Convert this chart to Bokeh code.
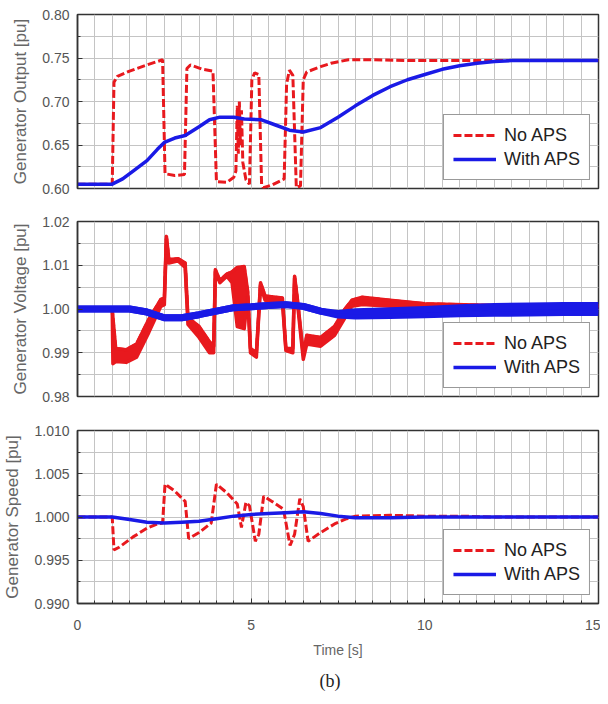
from bokeh.plotting import figure
from bokeh.models import (Range1d, FixedTicker, PrintfTickFormatter, Legend,
                          LegendItem, Title)
from bokeh.layouts import column
from bokeh.embed import file_html
from bokeh.resources import INLINE

# ---------------- data ----------------
x_ticks = [0, 5, 10, 15]
x_minor = [i * 0.5 for i in range(31)]

# Panel 1: generator output [pu]
p1_ticks = [0.60, 0.65, 0.70, 0.75, 0.80]
p1_minor = [0.60, 0.625, 0.65, 0.675, 0.70, 0.725, 0.75, 0.775, 0.80]
out_no_t = [0.0, 1.0, 1.05, 1.15, 1.5, 2.0, 2.45, 2.52, 2.8, 3.08, 3.15, 3.25, 3.6, 3.9,
            4.0, 4.3, 4.5, 4.56, 4.6, 4.63, 4.66, 4.69, 4.72, 4.76, 4.85, 4.95, 5.02,
            5.1, 5.22, 5.3, 5.35, 5.6, 5.95, 6.02, 6.1, 6.2, 6.3, 6.42, 6.5, 6.6, 7.0,
            7.3, 7.8, 8.5, 9.5, 10.5, 11.5, 12.5, 15.0]
out_no_v = [0.605, 0.605, 0.722, 0.729, 0.735, 0.742, 0.748, 0.617, 0.615, 0.616, 0.738,
            0.742, 0.737, 0.735, 0.608, 0.607, 0.613, 0.620, 0.695, 0.640, 0.700, 0.650,
            0.690, 0.630, 0.610, 0.605, 0.725, 0.733, 0.731, 0.605, 0.601, 0.604, 0.611,
            0.720, 0.736, 0.730, 0.601, 0.603, 0.725, 0.734, 0.740, 0.744, 0.748, 0.748,
            0.747, 0.747, 0.747, 0.747, 0.747]
out_aps_t = [0.0, 1.0, 1.3, 1.6, 2.0, 2.3, 2.5, 2.8, 3.1, 3.5, 3.8, 4.1, 4.5, 4.8, 5.3,
             5.7, 6.1, 6.5, 7.0, 7.5, 8.0, 8.5, 9.0, 9.5, 10.0, 10.5, 11.0, 11.5, 12.0,
             12.5, 13.0, 15.0]
out_aps_v = [0.605, 0.605, 0.611, 0.620, 0.632, 0.645, 0.653, 0.658, 0.661, 0.671, 0.679,
             0.682, 0.682, 0.680, 0.679, 0.673, 0.667, 0.665, 0.670, 0.682, 0.695, 0.707,
             0.717, 0.725, 0.731, 0.737, 0.741, 0.744, 0.746, 0.747, 0.747, 0.747]

# Panel 2: generator voltage [pu] (lower / upper envelope of the traces)
p2_ticks = [0.98, 0.99, 1.00, 1.01, 1.02]
p2_minor = [0.98, 0.985, 0.99, 0.995, 1.00, 1.005, 1.01, 1.015, 1.02]
volt_no_t = [0.0, 1.0, 1.02, 1.1, 1.4, 1.7, 2.05, 2.4, 2.5, 2.56, 2.63, 2.9, 3.1, 3.18,
             3.5, 3.8, 3.92, 3.97, 4.1, 4.3, 4.45, 4.6, 4.8, 4.9, 4.98, 5.15, 5.27, 5.4,
             5.9, 6.0, 6.2, 6.25, 6.35, 6.5, 6.6, 7.0, 7.4, 7.7, 7.9, 8.2, 9.0, 10.0,
             12.0, 15.0]
volt_no_lo = [1.000, 1.000, 0.9875, 0.988, 0.9878, 0.989, 0.9946, 1.0006, 1.001, 1.016,
              1.0105, 1.011, 1.0095, 0.9965, 0.9935, 0.990, 0.990, 1.0085, 1.006, 1.0075,
              1.006, 0.996, 0.9955, 1.003, 0.990, 0.989, 1.0055, 1.002, 1.0015, 0.9905,
              0.990, 1.007, 1.000, 0.9885, 0.992, 0.9915, 0.994, 0.998, 1.0006, 1.001,
              1.0006, 1.0004, 1.0003, 1.0003]
volt_no_hi = [1.000, 1.000, 0.998, 0.991, 0.9907, 0.992, 0.9976, 1.0022, 1.0025, 1.0166,
              1.0113, 1.0115, 1.0105, 0.998, 0.996, 0.9925, 0.9915, 1.009, 1.0065, 1.008,
              1.0085, 1.0095, 1.0097, 1.004, 0.991, 0.990, 1.006, 1.003, 1.0025, 0.991,
              0.991, 1.0075, 1.001, 0.9895, 0.994, 0.9935, 0.996, 1.000, 1.002, 1.0027,
              1.002, 1.0012, 1.0008, 1.0008]
volt_aps_t = [0.0, 1.5, 2.0, 2.5, 3.0, 3.5, 4.0, 4.5, 5.0, 5.5, 6.0, 6.5, 7.0, 7.5, 8.0,
              9.0, 10.0, 11.0, 12.0, 13.0, 14.0, 15.0]
volt_aps_lo = [1.000, 1.000, 0.9993, 0.998, 0.998, 0.9987, 0.9995, 1.0003, 1.0005, 1.0008,
               1.001, 1.0006, 0.9995, 0.9986, 0.9984, 0.9985, 0.9987, 0.9989, 0.999,
               0.9991, 0.9992, 0.9992]
volt_aps_hi = [1.000, 1.000, 0.9993, 0.998, 0.998, 0.9987, 0.9995, 1.0003, 1.0005, 1.0008,
               1.001, 1.0006, 0.9995, 0.999, 0.9994, 0.9996, 0.9999, 1.0003, 1.0006,
               1.0007, 1.0008, 1.0008]

# Panel 3: generator speed [pu]
p3_ticks = [0.990, 0.995, 1.000, 1.005, 1.010]
p3_minor = [0.990, 0.9925, 0.995, 0.9975, 1.000, 1.0025, 1.005, 1.0075, 1.010]
spd_no_t = [0.0, 1.0, 1.05, 1.2, 1.6, 2.0, 2.3, 2.45, 2.52, 2.8, 3.1, 3.2, 3.5, 3.85,
            4.0, 4.3, 4.6, 4.72, 4.85, 4.95, 5.12, 5.22, 5.36, 5.6, 5.93, 6.12, 6.25,
            6.4, 6.5, 6.64, 7.0, 7.4, 7.75, 8.0, 9.0, 10.0, 11.0, 12.0, 15.0]
spd_no_v = [1.000, 1.000, 0.9962, 0.9965, 0.9977, 0.9987, 0.9992, 0.9993, 1.0038, 1.003,
            1.0018, 0.9975, 0.9982, 0.9993, 1.0038, 1.0028, 1.0015, 0.9988, 1.0017,
            1.0013, 0.9972, 0.998, 1.0024, 1.0018, 1.0009, 0.9967, 0.998, 1.0021, 1.0012,
            0.9972, 0.9982, 0.9992, 0.9998, 1.0001, 1.0002, 1.0001, 1.0001, 1.000, 1.000]
spd_aps_t = [0.0, 1.0, 1.5, 2.0, 2.5, 3.0, 3.5, 4.0, 4.5, 5.0, 5.5, 6.0, 6.5, 7.0, 7.5,
             8.0, 9.0, 10.0, 15.0]
spd_aps_v = [1.000, 1.000, 0.9997, 0.9994, 0.9993, 0.9994, 0.9995, 0.9998, 1.0001, 1.0003,
             1.0004, 1.0005, 1.0006, 1.0004, 1.0001, 0.9999, 0.9999, 1.000, 1.000]

labels = ["No APS", "With APS"]

# ---------------- style ----------------
RED = "#e8191e"
BLUE = "#1a1ae6"
GRID = "#c4c4c4"
FONT = "Liberation Sans"
DASH = "8 3"
W = 600

x_range = Range1d(0, 15)


def make_panel(yr, yticks, yminor, fmt, ylabel, height, top, bottom, show_x):
    p = figure(width=W, height=height, x_range=x_range, y_range=Range1d(*yr),
               output_backend="svg", toolbar_location=None,
               min_border_left=70, min_border_right=2,
               min_border_top=top, min_border_bottom=bottom)
    xt = FixedTicker(ticks=x_ticks, minor_ticks=x_minor)
    yt = FixedTicker(ticks=yticks, minor_ticks=yminor)
    p.xaxis.ticker = xt
    p.yaxis.ticker = yt
    p.xgrid.ticker = xt
    p.ygrid.ticker = yt
    for g in (p.xgrid, p.ygrid):
        g.grid_line_color = GRID
        g.grid_line_width = 1
        g.minor_grid_line_color = GRID
        g.minor_grid_line_width = 1
    p.yaxis.formatter = PrintfTickFormatter(format=fmt)
    for ax in (p.xaxis, p.yaxis):
        ax.axis_line_color = "#333333"
        ax.axis_line_width = 1.5
        ax.major_tick_in = 5
        ax.major_tick_out = 0
        ax.minor_tick_in = 3
        ax.minor_tick_out = 0
        ax.major_tick_line_color = "#333333"
        ax.minor_tick_line_color = "#333333"
        ax.major_label_text_font = FONT
        ax.major_label_text_font_size = "14px"
        ax.major_label_text_color = "#555555"
        ax.axis_label_text_font = FONT
        ax.axis_label_text_font_style = "normal"
        ax.axis_label_text_color = "#666666"
    p.yaxis.axis_label = ylabel
    p.yaxis.axis_label_text_font_size = "17px"
    p.yaxis.major_label_standoff = 8
    p.yaxis.axis_label_standoff = 9
    if show_x:
        p.xaxis.axis_label = "Time [s]"
        p.xaxis.axis_label_text_font_size = "14px"
        p.xaxis.major_label_standoff = 16
        p.xaxis.axis_label_standoff = 9
    else:
        p.xaxis.visible = False
    p.outline_line_color = "#333333"
    p.outline_line_width = 1.5
    p.background_fill_color = "white"
    p.border_fill_color = "white"
    return p


def add_legend(p, r_no, r_aps):
    leg = Legend(items=[LegendItem(label=labels[0], renderers=[r_no]),
                        LegendItem(label=labels[1], renderers=[r_aps])],
                 location="bottom_right", margin=8, padding=9, spacing=2,
                 glyph_width=43, glyph_height=22, label_standoff=8,
                 label_text_font=FONT, label_text_font_size="18px",
                 label_text_color="#222222",
                 border_line_color="#333333", border_line_width=1.5,
                 background_fill_color="white", background_fill_alpha=1.0)
    p.add_layout(leg, "center")


# Panel 1
p1 = make_panel((0.60, 0.80), p1_ticks, p1_minor, "%.2f", "Generator Output [pu]",
                215, 14, 27, False)
a = p1.line(out_no_t, out_no_v, line_color=RED, line_width=3, line_dash=DASH)
b = p1.line(out_aps_t, out_aps_v, line_color=BLUE, line_width=3.5)
add_legend(p1, a, b)

# Panel 2
p2 = make_panel((0.98, 1.02), p2_ticks, p2_minor, "%.2f", "Generator Voltage [pu]",
                207, 6, 26, False)
p2.varea(x=volt_no_t, y1=volt_no_lo, y2=volt_no_hi, fill_color=RED)
p2.line(volt_no_t, volt_no_lo, line_color=RED, line_width=3.5, line_join="round")
p2.line(volt_no_t, volt_no_hi, line_color=RED, line_width=3.5, line_join="round")
a = p2.line(volt_no_t, volt_no_hi, line_color=RED, line_width=3, line_dash=DASH)
p2.varea(x=volt_aps_t, y1=volt_aps_lo, y2=volt_aps_hi, fill_color=BLUE)
p2.line(volt_aps_t, volt_aps_lo, line_color=BLUE, line_width=7, line_join="round")
p2.line(volt_aps_t, volt_aps_hi, line_color=BLUE, line_width=7, line_join="round")
b = p2.line(volt_aps_t, volt_aps_lo, line_color=BLUE, line_width=3.5)
add_legend(p2, a, b)

# Panel 3
p3 = make_panel((0.990, 1.010), p3_ticks, p3_minor, "%.3f", "Generator Speed [pu]",
                276, 8, 94, True)
a = p3.line(spd_no_t, spd_no_v, line_color=RED, line_width=3, line_dash=DASH)
b = p3.line(spd_aps_t, spd_aps_v, line_color=BLUE, line_width=3.5)
add_legend(p3, a, b)
p3.add_layout(Title(text="(b)", align="left", offset=242, text_font="Liberation Serif",
                    text_font_size="18px", text_font_style="normal",
                    text_color="#222222", standoff=16), "below")

layout = column(p1, p2, p3, spacing=0)
open("out.html", "w").write(file_html(layout, INLINE))
